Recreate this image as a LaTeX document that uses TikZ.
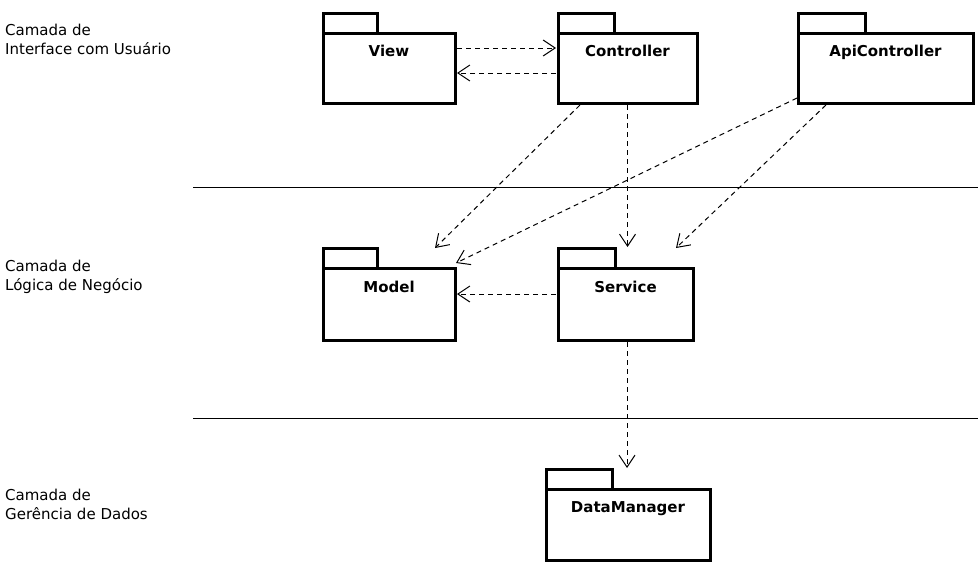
\documentclass[tikz,border=0pt]{standalone}
\usepackage{fontspec}
\setmainfont{DejaVu Sans}
\usetikzlibrary{arrows.meta,calc}
\begin{document}
\begin{tikzpicture}[x=1pt,y=-1pt,
  pkgbody/.style={draw=black, line width=3pt, fill=white, inner sep=0pt, outer sep=0pt},
  pkgtab/.style={draw=black, line width=3pt, fill=white, inner sep=0pt, outer sep=0pt, minimum height=20pt, anchor=south west},
  pkgtitle/.style={font=\fontsize{15}{17}\selectfont\bfseries, anchor=base, inner sep=0pt},
  layerlabel/.style={font=\fontsize{15}{19}\selectfont, align=left, anchor=north west, inner sep=0pt},
  dep/.style={line width=1pt, dash pattern=on 5pt off 4pt, -{Straight Barb[length=12pt,width=16pt,line width=1pt]}},
  sep/.style={line width=1pt}]
\useasboundingbox (0,0) rectangle (978,573);

% layer labels
\node[layerlabel] (l1) at (5,23.5) {Camada de\\Interface com Usuário};
\node[layerlabel] (l2) at (5,260) {Camada de\\Lógica de Negócio};
\node[layerlabel] (l3) at (5,489) {Camada de\\Gerência de Dados};

% separators
\draw[sep] (193,187) -- (978,187);
\draw[sep] (193,418) -- (978,418);

% packages
\node[pkgbody, minimum width=132pt, minimum height=70pt] (view) at (389,68) {};
\node[pkgtab, minimum width=54pt] (viewtab) at (view.north west) {};
\node[pkgtitle] (viewt) at ($(view.north)+(0,23)$) {View};

\node[pkgbody, minimum width=139pt, minimum height=70pt] (ctrl) at (627.5,68) {};
\node[pkgtab, minimum width=56pt] (ctrltab) at (ctrl.north west) {};
\node[pkgtitle] (ctrlt) at ($(ctrl.north)+(0,23)$) {Controller};

\node[pkgbody, minimum width=175pt, minimum height=70pt] (api) at (885.5,68) {};
\node[pkgtab, minimum width=67pt] (apitab) at (api.north west) {};
\node[pkgtitle] (apit) at ($(api.north)+(0,23)$) {ApiController};

\node[pkgbody, minimum width=132pt, minimum height=72pt] (model) at (389,304) {};
\node[pkgtab, minimum width=54pt] (modeltab) at (model.north west) {};
\node[pkgtitle] (modelt) at ($(model.north)+(0,24)$) {Model};

\node[pkgbody, minimum width=135pt, minimum height=72pt] (svc) at (625.5,304) {};
\node[pkgtab, minimum width=57pt] (svctab) at (svc.north west) {};
\node[pkgtitle] (svct) at ($(svc.north)+(0,24)$) {Service};

\node[pkgbody, minimum width=164pt, minimum height=71pt] (dm) at (628,524.5) {};
\node[pkgtab, minimum width=66pt] (dmtab) at (dm.north west) {};
\node[pkgtitle] (dmt) at ($(dm.north)+(0,23)$) {DataManager};

% dependencies
\draw[dep] ($(view.north east)+(2,15)$) -- ($(ctrl.north west)+(-2,15)$);
\draw[dep] ($(ctrl.north west)+(-2,40)$) -- ($(view.north east)+(2,40)$);
\draw[dep] ($(ctrl.south west)+(22,2)$) -- ($(model.north west)+(112,-20)$);
\draw[dep] ($(api.south west)+(-1,-5)$) -- ($(model.north east)+(1,-5)$);
\draw[dep] ($(ctrl.south)+(0,2)$) -- ($(ctrl.south |- svctab.north)+(0,-1)$);
\draw[dep] ($(api.south west)+(28,2)$) -- ($(svc.north east)+(-17,-20)$);
\draw[dep] ($(svc.north west)+(-2,26)$) -- ($(model.north east)+(2,26)$);
\draw[dep] ($(svc.south)+(1.5,2)$) -- ($(svc.south |- dmtab.north)+(1.5,-1)$);
\end{tikzpicture}
\end{document}
